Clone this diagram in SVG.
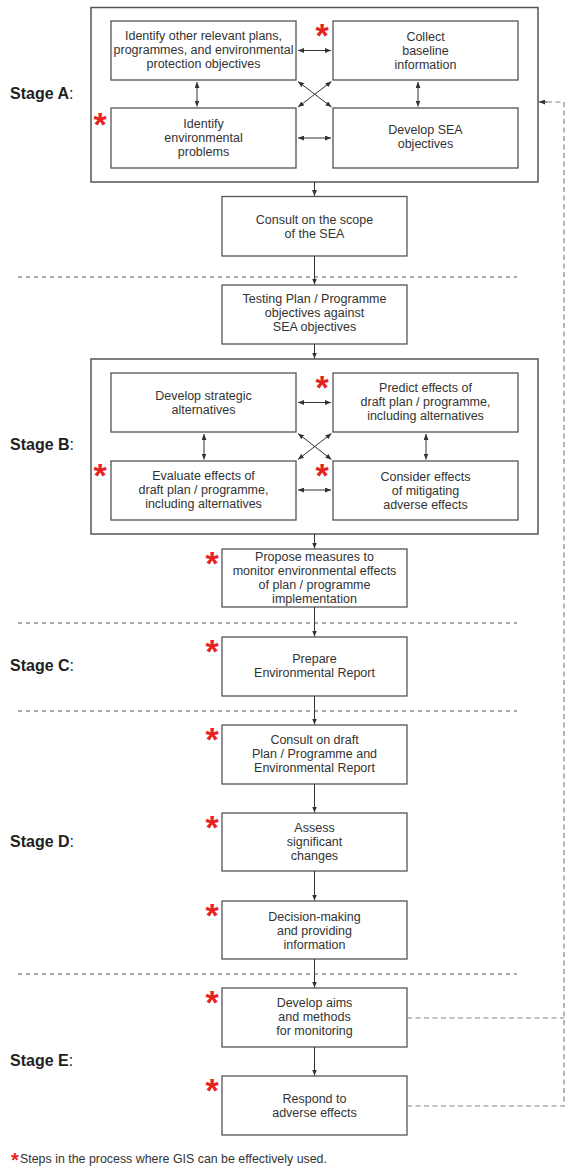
<svg xmlns="http://www.w3.org/2000/svg" width="574" height="1170" viewBox="0 0 574 1170">
<defs>
<marker id="ah" viewBox="0 0 6 5" refX="6" refY="2.5" markerWidth="6" markerHeight="5" markerUnits="userSpaceOnUse" orient="auto-start-reverse">
<path d="M0,0 L6,2.5 L0,5 Z" fill="#333"/>
</marker>
</defs>
<style>
.box{fill:#fff;stroke:#555;stroke-width:1.3}
.outer{fill:none;stroke:#555;stroke-width:1.5}
.t{font-family:"Liberation Sans",Arial,sans-serif;font-size:12.5px;fill:#333;text-anchor:middle}
.stage{font-family:"Liberation Sans",Arial,sans-serif;font-size:16px;font-weight:bold;fill:#222}
.star{font-family:"Liberation Sans",Arial,sans-serif;font-size:34px;font-weight:bold;fill:#e8231f;text-anchor:middle}
.ar{stroke:#333;stroke-width:1;fill:none}
.sep{stroke:#555;stroke-width:1;stroke-dasharray:4 4;fill:none}
.fb{stroke:#888;stroke-width:1.2;stroke-dasharray:5 3.5;fill:none}
.foot{font-family:"Liberation Sans",Arial,sans-serif;font-size:12.4px;fill:#333}
</style>
<rect width="574" height="1170" fill="#fff"/>

<g id="labels">
<text class="stage" x="10" y="99">Stage A<tspan font-weight="normal">:</tspan></text>
<text class="stage" x="10" y="450">Stage B<tspan font-weight="normal">:</tspan></text>
<text class="stage" x="10" y="671">Stage C<tspan font-weight="normal">:</tspan></text>
<text class="stage" x="10" y="847">Stage D<tspan font-weight="normal">:</tspan></text>
<text class="stage" x="10" y="1066">Stage E<tspan font-weight="normal">:</tspan></text>
</g>

<g id="separators">
<line class="sep" x1="18" y1="277" x2="517" y2="277"/>
<line class="sep" x1="18" y1="623" x2="517" y2="623"/>
<line class="sep" x1="18" y1="711" x2="517" y2="711"/>
<line class="sep" x1="18" y1="974" x2="517" y2="974"/>
</g>

<g id="stageA">
<rect class="outer" x="91" y="7.5" width="447" height="174.5"/>
</g>
<g id="a1">
<rect class="box" x="111" y="21" width="185" height="59"/>
<text class="t" x="203.5" y="40">Identify other relevant plans,</text>
<text class="t" x="203.5" y="54">programmes, and environmental</text>
<text class="t" x="203.5" y="68">protection objectives</text>
</g>
<g id="a2">
<rect class="box" x="333" y="21" width="185" height="59"/>
<text class="t" x="425.5" y="41">Collect</text>
<text class="t" x="425.5" y="55">baseline</text>
<text class="t" x="425.5" y="69">information</text>
<text class="star" x="322" y="47">*</text>
</g>
<g id="a3">
<rect class="box" x="111" y="108" width="185" height="60"/>
<text class="t" x="203.5" y="128">Identify</text>
<text class="t" x="203.5" y="142">environmental</text>
<text class="t" x="203.5" y="156">problems</text>
<text class="star" x="100" y="136">*</text>
</g>
<g id="a4">
<rect class="box" x="333" y="108" width="185" height="60"/>
<text class="t" x="425.5" y="134">Develop SEA</text>
<text class="t" x="425.5" y="148">objectives</text>
</g>

<g id="consult-scope">
<rect class="box" x="222" y="196.5" width="185" height="59.5"/>
<text class="t" x="314.5" y="224">Consult on the scope</text>
<text class="t" x="314.5" y="238">of the SEA</text>
</g>
<g id="testing">
<rect class="box" x="222" y="285" width="185" height="59"/>
<text class="t" x="314.5" y="303">Testing Plan / Programme</text>
<text class="t" x="314.5" y="317">objectives against</text>
<text class="t" x="314.5" y="331">SEA objectives</text>
</g>

<g id="stageB">
<rect class="outer" x="91" y="359" width="447" height="175"/>
</g>
<g id="b1">
<rect class="box" x="111" y="373" width="185" height="59"/>
<text class="t" x="203.5" y="400">Develop strategic</text>
<text class="t" x="203.5" y="414">alternatives</text>
</g>
<g id="b2">
<rect class="box" x="333" y="373" width="185" height="59"/>
<text class="t" x="425.5" y="392">Predict effects of</text>
<text class="t" x="425.5" y="406">draft plan / programme,</text>
<text class="t" x="425.5" y="420">including alternatives</text>
<text class="star" x="322" y="399">*</text>
</g>
<g id="b3">
<rect class="box" x="111" y="461" width="185" height="59"/>
<text class="t" x="203.5" y="480">Evaluate effects of</text>
<text class="t" x="203.5" y="494">draft plan / programme,</text>
<text class="t" x="203.5" y="508">including alternatives</text>
<text class="star" x="100" y="487">*</text>
</g>
<g id="b4">
<rect class="box" x="333" y="461" width="185" height="59"/>
<text class="t" x="425.5" y="481">Consider effects</text>
<text class="t" x="425.5" y="495">of mitigating</text>
<text class="t" x="425.5" y="509">adverse effects</text>
<text class="star" x="322" y="487">*</text>
</g>

<g id="propose">
<rect class="box" x="222" y="549" width="185" height="58"/>
<text class="t" x="314.5" y="561">Propose measures to</text>
<text class="t" x="314.5" y="575">monitor environmental effects</text>
<text class="t" x="314.5" y="589">of plan / programme</text>
<text class="t" x="314.5" y="603">implementation</text>
<text class="star" x="212" y="575">*</text>
</g>
<g id="prepare">
<rect class="box" x="222" y="637" width="185" height="59"/>
<text class="t" x="314.5" y="663">Prepare</text>
<text class="t" x="314.5" y="677">Environmental Report</text>
<text class="star" x="212" y="663">*</text>
</g>
<g id="consult-draft">
<rect class="box" x="222" y="725" width="185" height="59"/>
<text class="t" x="314.5" y="744">Consult on draft</text>
<text class="t" x="314.5" y="758">Plan / Programme and</text>
<text class="t" x="314.5" y="772">Environmental Report</text>
<text class="star" x="212" y="751">*</text>
</g>
<g id="assess">
<rect class="box" x="222" y="813" width="185" height="58"/>
<text class="t" x="314.5" y="832">Assess</text>
<text class="t" x="314.5" y="846">significant</text>
<text class="t" x="314.5" y="860">changes</text>
<text class="star" x="212" y="839">*</text>
</g>
<g id="decision">
<rect class="box" x="222" y="901" width="185" height="58"/>
<text class="t" x="314.5" y="921">Decision-making</text>
<text class="t" x="314.5" y="935">and providing</text>
<text class="t" x="314.5" y="949">information</text>
<text class="star" x="212" y="927">*</text>
</g>
<g id="aims">
<rect class="box" x="222" y="988" width="185" height="59"/>
<text class="t" x="314.5" y="1007">Develop aims</text>
<text class="t" x="314.5" y="1021">and methods</text>
<text class="t" x="314.5" y="1035">for monitoring</text>
<text class="star" x="212" y="1014">*</text>
</g>
<g id="respond">
<rect class="box" x="222" y="1076" width="185" height="59"/>
<text class="t" x="314.5" y="1103">Respond to</text>
<text class="t" x="314.5" y="1117">adverse effects</text>
<text class="star" x="212" y="1102">*</text>
</g>

<g id="connectors">
<line class="ar" x1="298" y1="50.5" x2="331" y2="50.5" marker-start="url(#ah)" marker-end="url(#ah)"/>
<line class="ar" x1="298" y1="138" x2="331" y2="138" marker-start="url(#ah)" marker-end="url(#ah)"/>
<line class="ar" x1="197" y1="82" x2="197" y2="106.5" marker-start="url(#ah)" marker-end="url(#ah)"/>
<line class="ar" x1="418" y1="82" x2="418" y2="106.5" marker-start="url(#ah)" marker-end="url(#ah)"/>
<line class="ar" x1="298" y1="81.5" x2="331.5" y2="107" marker-start="url(#ah)" marker-end="url(#ah)"/>
<line class="ar" x1="331.5" y1="81.5" x2="298" y2="107" marker-start="url(#ah)" marker-end="url(#ah)"/>

<line class="ar" x1="298" y1="402.5" x2="331" y2="402.5" marker-start="url(#ah)" marker-end="url(#ah)"/>
<line class="ar" x1="298" y1="490" x2="331" y2="490" marker-start="url(#ah)" marker-end="url(#ah)"/>
<line class="ar" x1="204" y1="434" x2="204" y2="459.5" marker-start="url(#ah)" marker-end="url(#ah)"/>
<line class="ar" x1="426" y1="434" x2="426" y2="459.5" marker-start="url(#ah)" marker-end="url(#ah)"/>
<line class="ar" x1="298" y1="433.5" x2="331.5" y2="459.5" marker-start="url(#ah)" marker-end="url(#ah)"/>
<line class="ar" x1="331.5" y1="433.5" x2="298" y2="459.5" marker-start="url(#ah)" marker-end="url(#ah)"/>

<line class="ar" x1="314.5" y1="182" x2="314.5" y2="196" marker-end="url(#ah)"/>
<line class="ar" x1="314.5" y1="256" x2="314.5" y2="284.5" marker-end="url(#ah)"/>
<line class="ar" x1="314.5" y1="344" x2="314.5" y2="358.5" marker-end="url(#ah)"/>
<line class="ar" x1="314.5" y1="534" x2="314.5" y2="548.5" marker-end="url(#ah)"/>
<line class="ar" x1="314.5" y1="607" x2="314.5" y2="636.5" marker-end="url(#ah)"/>
<line class="ar" x1="314.5" y1="696" x2="314.5" y2="724.5" marker-end="url(#ah)"/>
<line class="ar" x1="314.5" y1="784" x2="314.5" y2="812.5" marker-end="url(#ah)"/>
<line class="ar" x1="314.5" y1="871" x2="314.5" y2="900.5" marker-end="url(#ah)"/>
<line class="ar" x1="314.5" y1="959" x2="314.5" y2="987.5" marker-end="url(#ah)"/>
<line class="ar" x1="314.5" y1="1047" x2="314.5" y2="1075.5" marker-end="url(#ah)"/>

<path class="fb" d="M407,1018 H564 M407,1106 H564 V102 H546"/>
<line class="ar" x1="547" y1="102" x2="539" y2="102" marker-end="url(#ah)"/>
</g>

<g id="footer">
<text class="star" x="15" y="1167" style="font-size:20px">*</text>
<text class="foot" x="20" y="1163">Steps in the process where GIS can be effectively used.</text>
</g>
</svg>
